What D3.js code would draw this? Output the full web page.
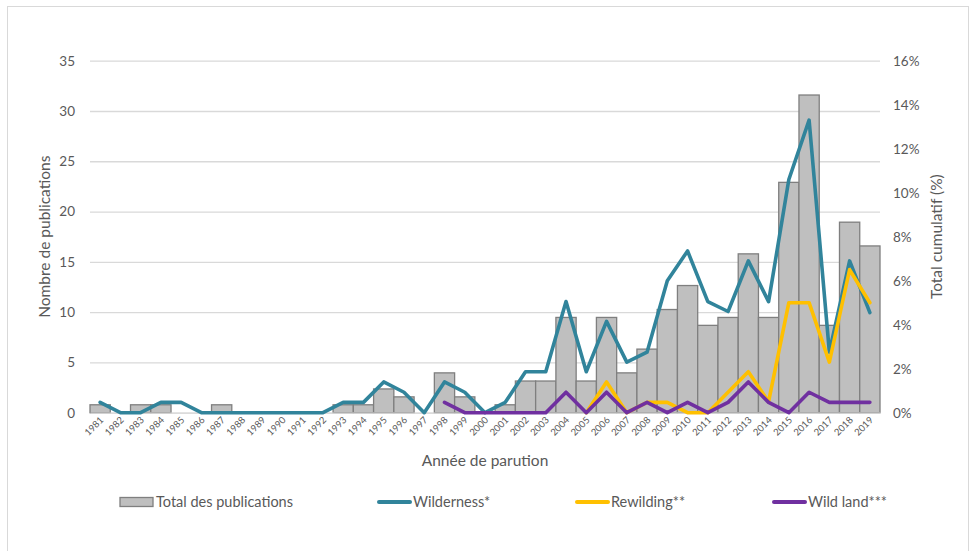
<!DOCTYPE html>
<html><head><meta charset="utf-8">
<script src="https://cdn.jsdelivr.net/npm/d3@7"></script>
<style>body{margin:0;background:#fff}svg{display:block}text{font-family:Lato,"Liberation Sans",sans-serif}</style>
</head><body><svg id="c" width="978" height="551"></svg>
<script>
const years = ["1981","1982","1983","1984","1985","1986","1987","1988","1989","1990","1991","1992","1993","1994","1995","1996","1997","1998","1999","2000","2001","2002","2003","2004","2005","2006","2007","2008","2009","2010","2011","2012","2013","2014","2015","2016","2017","2018","2019"];
// Total des publications (share of total, %)
const totalPub = [0.36,0,0.36,0.36,0,0,0.36,0,0,0,0,0,0.36,0.36,1.08,0.72,0,1.81,0.72,0,0.36,1.44,1.44,4.33,1.44,4.33,1.81,2.89,4.69,5.78,3.97,4.33,7.22,4.33,10.47,14.44,3.97,8.66,7.58];
const wilderness = [0.47,0,0,0.47,0.47,0,0,0,0,0,0,0,0.47,0.47,1.40,0.93,0,1.40,0.93,0,0.47,1.86,1.86,5.05,1.86,4.15,2.30,2.75,6.0,7.35,5.05,4.6,6.9,5.05,10.6,13.3,2.75,6.9,4.55];
const rewilding = [null,null,null,null,null,null,null,null,null,null,null,null,null,null,null,null,null,null,null,null,null,null,null,null,0,1.40,0,0.47,0.47,0,0,0.93,1.86,0.5,5.0,5.0,2.3,6.5,5.0];
const wildLand = [null,null,null,null,null,null,null,null,null,null,null,null,null,null,null,null,null,0.47,0,0,0,0,0,0.93,0,0.93,0,0.47,0,0.47,0,0.47,1.40,0.47,0,0.93,0.47,0.47,0.47];
const leftTicks = [0,5,10,15,20,25,30,35];
const rightTicks = [0,0.02,0.04,0.06,0.08,0.10,0.12,0.14,0.16];
const seriesNames = ["Total des publications","Wilderness*","Rewilding**","Wild land***"];
const colors = {bar:"#bfbfbf", barStroke:"#7f7f7f", wild:"#31849b", rew:"#ffc000", land:"#7030a0"};

const svg = d3.select("#c");
const L=90, R=880, T=60.7, B=412.7;
svg.append("rect").attr("x",7.5).attr("y",6.5).attr("width",961).attr("height",560).attr("fill","none").attr("stroke","#d9d9d9");

const x = d3.scaleBand().domain(years).range([L,R]).padding(0);
const yL = d3.scaleLinear().domain([0,35]).range([B,T]);
const yR = d3.scaleLinear().domain([0,16]).range([B,T]);
const bw = x.bandwidth();
const cx = (d,i)=>x(years[i])+bw/2;

// gridlines
const gAxisL = svg.append("g").attr("transform",`translate(${L},0)`)
  .call(d3.axisLeft(yL).tickValues(leftTicks).tickSize(-(R-L)).tickPadding(15).tickFormat(d3.format("d")));
gAxisL.select(".domain").remove();
gAxisL.selectAll(".tick line").attr("stroke","#d9d9d9").attr("stroke-width",1.3);
gAxisL.selectAll(".tick text").attr("fill","#595959").style("font-size","13.5px");

const gAxisR = svg.append("g").attr("transform",`translate(${R},0)`)
  .call(d3.axisRight(d3.scaleLinear().domain([0,0.16]).range([B,T])).tickValues(rightTicks).tickSize(0).tickPadding(13).tickFormat(d3.format(".0%")));
gAxisR.select(".domain").remove();
gAxisR.selectAll(".tick text").attr("fill","#595959").style("font-size","13.5px");

// bars
svg.append("g").selectAll("rect").data(totalPub).join("rect")
  .attr("x",(d,i)=>x(years[i])).attr("width",bw)
  .attr("y",d=>yR(d)).attr("height",d=>B-yR(d))
  .attr("fill",colors.bar).attr("stroke",d=>d>0?colors.barStroke:"none").attr("stroke-width",1.3);

// x axis
const gX = svg.append("g").attr("transform",`translate(0,${B})`)
  .call(d3.axisBottom(x).tickSize(0).tickPadding(0));
gX.select(".domain").attr("stroke","#d9d9d9").attr("stroke-width",1.3);
gX.selectAll(".tick text").attr("fill","#595959").style("font-size","9.5px")
  .attr("text-anchor","end").attr("dy","0").attr("transform","translate(4,8) rotate(-45)");

// lines
const line = d3.line().defined(d=>d!=null).x(cx).y(d=>yR(d));
[[wilderness,colors.wild],[rewilding,colors.rew],[wildLand,colors.land]].forEach(([arr,c])=>{
  svg.append("path").datum(arr).attr("d",line).attr("fill","none").attr("stroke",c)
    .attr("stroke-width",3.6).attr("stroke-linejoin","round").attr("stroke-linecap","round");
});

// titles
svg.append("text").attr("x",(L+R)/2).attr("y",466).attr("text-anchor","middle")
  .attr("fill","#595959").style("font-size","15.5px").text("Année de parution");
svg.append("text").attr("transform",`translate(50,${(T+B)/2}) rotate(-90)`).attr("text-anchor","middle")
  .attr("fill","#595959").style("font-size","15.5px").text("Nombre de publications");
svg.append("text").attr("transform",`translate(942,${(T+B)/2}) rotate(-90)`).attr("text-anchor","middle")
  .attr("fill","#595959").style("font-size","15.5px").text("Total cumulatif (%)");

// legend
const leg = svg.append("g");
const legX = [120,377,575,772];
leg.append("rect").attr("x",legX[0]).attr("y",497.5).attr("width",33).attr("height",9)
  .attr("fill",colors.bar).attr("stroke",colors.barStroke).attr("stroke-width",1.3);
[colors.wild,colors.rew,colors.land].forEach((c,i)=>{
  leg.append("line").attr("x1",legX[i+1]+2).attr("x2",legX[i+1]+33).attr("y1",502).attr("y2",502)
    .attr("stroke",c).attr("stroke-width",4).attr("stroke-linecap","round");
});
seriesNames.forEach((n,i)=>{
  leg.append("text").attr("x",legX[i]+36).attr("y",507).attr("fill","#595959").style("font-size","14.5px").text(n);
});
</script></body></html>
